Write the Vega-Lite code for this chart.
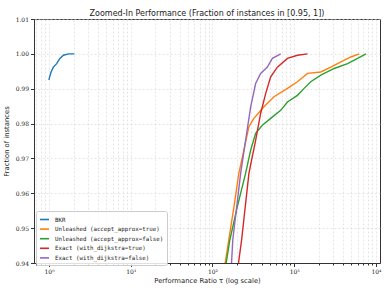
{
  "$schema": "https://vega.github.io/schema/vega-lite/v6.json",
  "width": 346,
  "height": 244,
  "autosize": {"type": "none"},
  "padding": {"left": 34, "top": 19, "right": 9, "bottom": 29},
  "background": "white",
  "title": {
    "text": "Zoomed-In Performance (Fraction of instances in [0.95, 1])",
    "font": "DejaVu Sans",
    "fontSize": 8,
    "fontWeight": "normal",
    "color": "#222",
    "offset": 2,
    "dy": 4
  },
  "config": {
    "view": {"stroke": "#333", "strokeWidth": 1},
    "axis": {
      "domainColor": "#333",
      "tickColor": "#333",
      "labelColor": "#222",
      "titleColor": "#222",
      "gridColor": "#d4d4d4",
      "gridDash": [2, 2],
      "gridWidth": 0.6,
      "labelFont": "DejaVu Serif",
      "labelFontSize": 6,
      "titleFont": "DejaVu Sans",
      "titleFontSize": 6.8,
      "titleFontWeight": "normal"
    }
  },
  "data": {
    "values": [
      {"s": "BKR", "r": 1.0, "f": 0.9925},
      {"s": "BKR", "r": 1.01, "f": 0.9931},
      {"s": "BKR", "r": 1.06, "f": 0.9948},
      {"s": "BKR", "r": 1.13, "f": 0.9962},
      {"s": "BKR", "r": 1.24, "f": 0.9972},
      {"s": "BKR", "r": 1.36, "f": 0.9987},
      {"s": "BKR", "r": 1.5, "f": 0.9996},
      {"s": "BKR", "r": 1.73, "f": 1.0},
      {"s": "BKR", "r": 2.04, "f": 1.0},

      {"s": "Unleashed (accept_approx=true)", "r": 135, "f": 0.937},
      {"s": "Unleashed (accept_approx=true)", "r": 143, "f": 0.94},
      {"s": "Unleashed (accept_approx=true)", "r": 158, "f": 0.9466},
      {"s": "Unleashed (accept_approx=true)", "r": 183, "f": 0.9561},
      {"s": "Unleashed (accept_approx=true)", "r": 210, "f": 0.9657},
      {"s": "Unleashed (accept_approx=true)", "r": 242, "f": 0.9724},
      {"s": "Unleashed (accept_approx=true)", "r": 279, "f": 0.9791},
      {"s": "Unleashed (accept_approx=true)", "r": 321, "f": 0.9815},
      {"s": "Unleashed (accept_approx=true)", "r": 426, "f": 0.9848},
      {"s": "Unleashed (accept_approx=true)", "r": 565, "f": 0.9877},
      {"s": "Unleashed (accept_approx=true)", "r": 826, "f": 0.9901},
      {"s": "Unleashed (accept_approx=true)", "r": 1094, "f": 0.992},
      {"s": "Unleashed (accept_approx=true)", "r": 1452, "f": 0.9944},
      {"s": "Unleashed (accept_approx=true)", "r": 2113, "f": 0.9948},
      {"s": "Unleashed (accept_approx=true)", "r": 2806, "f": 0.9962},
      {"s": "Unleashed (accept_approx=true)", "r": 3722, "f": 0.9977},
      {"s": "Unleashed (accept_approx=true)", "r": 4935, "f": 0.9991},
      {"s": "Unleashed (accept_approx=true)", "r": 6237, "f": 1.0},

      {"s": "Unleashed (accept_approx=false)", "r": 139, "f": 0.937},
      {"s": "Unleashed (accept_approx=false)", "r": 147, "f": 0.94},
      {"s": "Unleashed (accept_approx=false)", "r": 163, "f": 0.9466},
      {"s": "Unleashed (accept_approx=false)", "r": 201, "f": 0.9561},
      {"s": "Unleashed (accept_approx=false)", "r": 254, "f": 0.9657},
      {"s": "Unleashed (accept_approx=false)", "r": 293, "f": 0.9724},
      {"s": "Unleashed (accept_approx=false)", "r": 337, "f": 0.9772},
      {"s": "Unleashed (accept_approx=false)", "r": 407, "f": 0.9795},
      {"s": "Unleashed (accept_approx=false)", "r": 515, "f": 0.9815},
      {"s": "Unleashed (accept_approx=false)", "r": 683, "f": 0.9838},
      {"s": "Unleashed (accept_approx=false)", "r": 826, "f": 0.9862},
      {"s": "Unleashed (accept_approx=false)", "r": 1094, "f": 0.9881},
      {"s": "Unleashed (accept_approx=false)", "r": 1321, "f": 0.9901},
      {"s": "Unleashed (accept_approx=false)", "r": 1592, "f": 0.992},
      {"s": "Unleashed (accept_approx=false)", "r": 2113, "f": 0.9939},
      {"s": "Unleashed (accept_approx=false)", "r": 3083, "f": 0.9958},
      {"s": "Unleashed (accept_approx=false)", "r": 4498, "f": 0.9972},
      {"s": "Unleashed (accept_approx=false)", "r": 5960, "f": 0.9987},
      {"s": "Unleashed (accept_approx=false)", "r": 7540, "f": 1.0},

      {"s": "Exact (with_dijkstra=true)", "r": 200, "f": 0.937},
      {"s": "Exact (with_dijkstra=true)", "r": 208, "f": 0.94},
      {"s": "Exact (with_dijkstra=true)", "r": 227, "f": 0.9466},
      {"s": "Exact (with_dijkstra=true)", "r": 279, "f": 0.9657},
      {"s": "Exact (with_dijkstra=true)", "r": 337, "f": 0.9752},
      {"s": "Exact (with_dijkstra=true)", "r": 388, "f": 0.9829},
      {"s": "Exact (with_dijkstra=true)", "r": 447, "f": 0.9886},
      {"s": "Exact (with_dijkstra=true)", "r": 515, "f": 0.9934},
      {"s": "Exact (with_dijkstra=true)", "r": 622, "f": 0.9962},
      {"s": "Exact (with_dijkstra=true)", "r": 826, "f": 0.9987},
      {"s": "Exact (with_dijkstra=true)", "r": 1094, "f": 0.9996},
      {"s": "Exact (with_dijkstra=true)", "r": 1452, "f": 1.0},

      {"s": "Exact (with_dijkstra=false)", "r": 165, "f": 0.937},
      {"s": "Exact (with_dijkstra=false)", "r": 171, "f": 0.94},
      {"s": "Exact (with_dijkstra=false)", "r": 177, "f": 0.9466},
      {"s": "Exact (with_dijkstra=false)", "r": 221, "f": 0.9657},
      {"s": "Exact (with_dijkstra=false)", "r": 254, "f": 0.9752},
      {"s": "Exact (with_dijkstra=false)", "r": 293, "f": 0.9848},
      {"s": "Exact (with_dijkstra=false)", "r": 337, "f": 0.9915},
      {"s": "Exact (with_dijkstra=false)", "r": 388, "f": 0.9944},
      {"s": "Exact (with_dijkstra=false)", "r": 469, "f": 0.9962},
      {"s": "Exact (with_dijkstra=false)", "r": 540, "f": 0.9987},
      {"s": "Exact (with_dijkstra=false)", "r": 683, "f": 1.0}
    ]
  },
  "mark": {"type": "line", "clip": true, "strokeWidth": 1.4},
  "encoding": {
    "x": {
      "field": "r",
      "type": "quantitative",
      "scale": {"type": "log", "domain": [0.655, 11200], "nice": false},
      "axis": {
        "title": "Performance Ratio τ (log scale)",
        "values": [0.7, 0.8, 0.9, 1, 2, 3, 4, 5, 6, 7, 8, 9, 10, 20, 30, 40, 50, 60, 70, 80, 90, 100, 200, 300, 400, 500, 600, 700, 800, 900, 1000, 2000, 3000, 4000, 5000, 6000, 7000, 8000, 9000, 10000],
        "labelExpr": "datum.value == 1 ? '10⁰' : datum.value == 10 ? '10¹' : datum.value == 100 ? '10²' : datum.value == 1000 ? '10³' : datum.value == 10000 ? '10⁴' : ''",
        "labelOverlap": false,
        "labelFlush": false,
        "tickSize": {"condition": {"test": "indexof([1,10,100,1000,10000], datum.value) >= 0", "value": 3.5}, "value": 2},
        "labelPadding": 2,
        "titlePadding": 3
      }
    },
    "y": {
      "field": "f",
      "type": "quantitative",
      "scale": {"domain": [0.94, 1.01], "nice": false, "zero": false},
      "axis": {
        "title": "Fraction of instances",
        "values": [0.94, 0.95, 0.96, 0.97, 0.98, 0.99, 1.0, 1.01],
        "format": ".2f",
        "tickSize": 3.5,
        "labelPadding": 2,
        "titlePadding": 6
      }
    },
    "color": {
      "field": "s",
      "type": "nominal",
      "sort": ["BKR", "Unleashed (accept_approx=true)", "Unleashed (accept_approx=false)", "Exact (with_dijkstra=true)", "Exact (with_dijkstra=false)"],
      "scale": {
        "domain": ["BKR", "Unleashed (accept_approx=true)", "Unleashed (accept_approx=false)", "Exact (with_dijkstra=true)", "Exact (with_dijkstra=false)"],
        "range": ["#1f77b4", "#ff7f0e", "#2ca02c", "#d62728", "#9467bd"]
      },
      "legend": {
        "title": null,
        "orient": "none",
        "legendX": 2,
        "legendY": 192,
        "fillColor": "rgba(255,255,255,0.85)",
        "strokeColor": "#cccccc",
        "cornerRadius": 2,
        "padding": 3,
        "rowPadding": 0.6,
        "symbolType": "stroke",
        "symbolSize": 81,
        "symbolStrokeWidth": 1.6,
        "labelFont": "DejaVu Sans Mono",
        "labelFontSize": 5.8,
        "labelColor": "#222",
        "labelOffset": 5,
        "labelLimit": 300
      }
    }
  }
}
